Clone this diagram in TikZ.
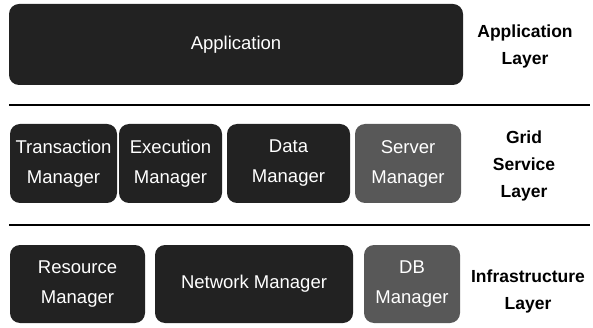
\documentclass[tikz,border=0pt]{standalone}
\usepackage{fontspec}
\setmainfont{Liberation Sans}
\usepackage{tikz}
\usepackage{xcolor}
\definecolor{gsdark}{RGB}{34,34,34}
\definecolor{gsgray}{RGB}{88,88,88}
\tikzstyle{box} = [rounded corners=10pt, fill=gsdark, text=white, align=center, inner sep=0pt, font=\fontsize{18.5}{30}\selectfont, minimum height=79pt]
\tikzstyle{graybox} = [box, fill=gsgray]
\tikzstyle{layer} = [align=center, font=\fontsize{17.5}{27}\selectfont\bfseries]
\tikzstyle{sep} = [line width=2pt, black]

\begin{document}
\begin{tikzpicture}[x=1pt, y=-1pt]
\useasboundingbox (0,0) rectangle (593,328);

% Application layer
\node[box, minimum width=454pt, minimum height=81pt] (app) at (236,44.5) {Application};
\node[layer] (applabel) at (525,46) {Application\\Layer};

% Separators
\coordinate (s1l) at (9,105);
\coordinate (s1r) at (590,105);
\draw[sep] (s1l) -- (s1r);
\coordinate (s2l) at (9,225);
\coordinate (s2r) at (590,225);
\draw[sep] (s2l) -- (s2r);

% Grid service layer
\node[box, minimum width=107pt] (trans) at (63.5,163.5) {Transaction\\Manager};
\node[box, minimum width=103pt] (exec) at (170.5,163.5) {Execution\\Manager};
\node[box, minimum width=123pt] (data) at (288.5,163.5) {Data\\Manager};
\node[graybox, minimum width=106pt] (server) at (408,163.5) {Server\\Manager};
\node[layer] (gridlabel) at (524,166) {Grid\\Service\\Layer};

% Infrastructure layer
\node[box, minimum width=135pt, minimum height=78pt] (res) at (77.5,284) {Resource\\Manager};
\node[box, minimum width=198pt, minimum height=78pt] (net) at (254,284) {Network Manager};
\node[graybox, minimum width=96pt, minimum height=78pt] (db) at (412,284) {DB\\Manager};
\node[layer] (infralabel) at (528,291) {Infrastructure\\Layer};
\end{tikzpicture}
\end{document}
